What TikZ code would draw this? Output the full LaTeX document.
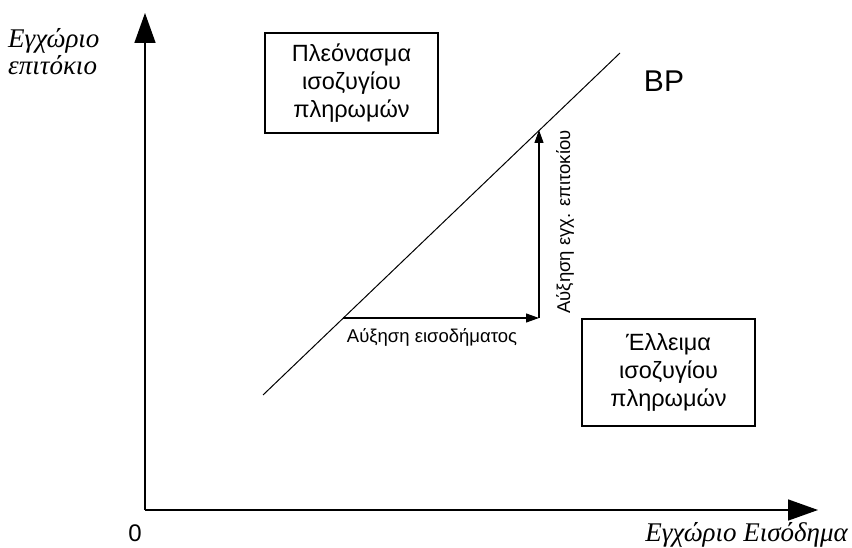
\documentclass[tikz,border=0pt]{standalone}
\usepackage{fontspec}
\setmainfont{Liberation Serif}
\newfontfamily\grsans{Liberation Sans}
\usetikzlibrary{arrows.meta}
\tikzset{
  axis/.style={line width=1.6pt, -{Triangle[length=30pt,width=21pt]}},
  smallarrow/.style={line width=1.2pt, -{Triangle[length=13pt,width=9pt]}},
  boxnode/.style={draw, line width=1.4pt, align=center, font=\grsans\fontsize{23.5}{28}\selectfont, inner sep=0pt},
  axlabel/.style={font=\itshape\fontsize{27}{27}\selectfont, align=left, inner sep=0pt},
  smalllabel/.style={font=\grsans\fontsize{18.5}{20}\selectfont, inner sep=0pt}
}
\begin{document}
\begin{tikzpicture}[x=1pt,y=-1pt]
\useasboundingbox (0,0) rectangle (852,548);
\coordinate (O) at (145,510);
\coordinate (ytop) at (145,13);
\coordinate (xend) at (818,510);
\draw[axis] (O) -- (ytop);
\draw[axis] (O) -- (xend);
\coordinate (bp1) at (263,395);
\coordinate (bp2) at (620,53);
\draw[line width=1pt] (bp1) -- (bp2);
\coordinate (A) at (343,318);
\coordinate (B) at (539,318);
\coordinate (C) at (539,130);
\draw[smallarrow] (A) -- (B);
\draw[smallarrow] (B) -- (C);
\node[boxnode, minimum width=173pt, minimum height=100pt] (surplus) at (351.5,83) {Πλεόνασμα\\ισοζυγίου\\πληρωμών};
\node[boxnode, minimum width=173pt, minimum height=107pt] (deficit) at (668.5,372.5) {Έλλειμα\\ισοζυγίου\\πληρωμών};
\node[font=\grsans\fontsize{30}{32}\selectfont, inner sep=0pt] (bp) at (664,81) {BP};
\node[smalllabel] (inc) at (432,337) {Αύξηση εισοδήματος};
\node[smalllabel, rotate=90] (rate) at (565,222) {Αύξηση εγχ. επιτοκίου};
\node[axlabel, anchor=north west] (ylab) at (8,28) {Εγχώριο\\επιτόκιο};
\node[axlabel, anchor=east] (xlab) at (848,535) {Εγχώριο Εισόδημα};
\node[font=\grsans\fontsize{24}{26}\selectfont, inner sep=0pt] (zero) at (135,533) {0};
\end{tikzpicture}
\end{document}
